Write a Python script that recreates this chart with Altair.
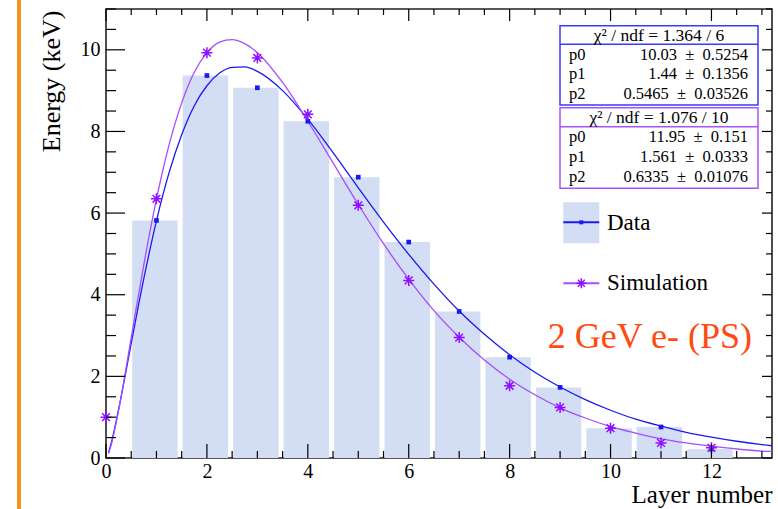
import altair as alt
import pandas as pd

FONT = "Liberation Serif"

# ---- data ----
layers = [1, 2, 3, 4, 5, 6, 7, 8, 9, 10, 11, 12]
data_energy = [5.82, 9.37, 9.07, 8.25, 6.88, 5.29, 3.59, 2.47, 1.73, 0.73, 0.76, 0.22]

sim_layers = [0, 1, 2, 3, 4, 5, 6, 7, 8, 9, 10, 11, 12]
sim_energy = [1.00, 6.35, 9.93, 9.80, 8.42, 6.19, 4.35, 2.95, 1.77, 1.24, 0.73, 0.37, 0.25]

# fitted curves
fit_x = [0.05, 0.1, 0.25, 0.5, 0.75, 1, 1.25, 1.5, 1.75, 2, 2.25, 2.5, 2.75, 3,
         3.5, 4, 4.5, 5, 5.5, 6, 6.5, 7, 7.5, 8, 8.5, 9, 9.5, 10, 10.5, 11,
         11.5, 12, 12.5, 13, 13.2]
data_fit = [0.13, 0.35, 1.19, 2.81, 4.40, 5.81, 6.99, 7.92, 8.63, 9.12, 9.43, 9.57,
            9.58, 9.47, 9.00, 8.30, 7.48, 6.62, 5.78, 4.99, 4.26, 3.60, 3.03, 2.53,
            2.10, 1.74, 1.43, 1.17, 0.95, 0.78, 0.63, 0.51, 0.41, 0.33, 0.30]
sim_fit = [0.11, 0.31, 1.17, 2.95, 4.74, 6.34, 7.67, 8.70, 9.45, 9.93, 10.19, 10.25,
           10.15, 9.93, 9.20, 8.25, 7.23, 6.21, 5.25, 4.38, 3.61, 2.96, 2.40, 1.93,
           1.55, 1.23, 0.98, 0.77, 0.61, 0.47, 0.37, 0.29, 0.22, 0.17, 0.16]

x_labels = [0, 2, 4, 6, 8, 10, 12]
y_labels = [0, 2, 4, 6, 8, 10]
x_minor = [v * 0.5 for v in range(1, 27) if v % 4 != 0]
y_minor = [v * 0.5 for v in range(1, 23) if v % 4 != 0]

PM = "\u2002\u00b1\u2002"
fit1_header = "\u03c7\u00b2 / ndf = 1.364 / 6"
fit1_names = ["p0", "p1", "p2"]
fit1_vals = ["10.03" + PM + "0.5254", "1.44" + PM + "0.1356", "0.5465" + PM + "0.03526"]
fit2_header = "\u03c7\u00b2 / ndf = 1.076 / 10"
fit2_vals = ["11.95" + PM + "0.151", "1.561" + PM + "0.0333", "0.6335" + PM + "0.01076"]

# ---- styles ----
W, H = 666, 449
BAR = "#d3ddf4"
BLUE = "#1a1af0"
PURPLE_LINE = "#a64dff"
PURPLE_PT = "#9010ff"
STAR = "M-1,0L1,0M0,-1L0,1M-0.7,-0.7L0.7,0.7M-0.7,0.7L0.7,-0.7"

bars_df = pd.DataFrame({"layer": layers, "energy": data_energy})
bars_df["x0"] = bars_df["layer"] - 0.48
bars_df["x1"] = bars_df["layer"] + 0.42
sim_df = pd.DataFrame({"layer": sim_layers, "energy": sim_energy})
fit_df = pd.DataFrame({"x": fit_x, "data": data_fit, "sim": sim_fit})

xs = alt.Scale(domain=[0, 13.2], nice=False, zero=False)
ys = alt.Scale(domain=[0, 11], nice=False, zero=False)

x_axis = alt.Axis(values=x_labels, ticks=False, tickSize=0, domain=False, grid=False,
                  labelFont=FONT, labelFontSize=20, labelColor="black", labelPadding=3,
                  title="Layer number", titleFont=FONT, titleFontSize=25,
                  titleFontWeight="normal", titleColor="black", titleX=W,
                  titleY=44, titleAlign="right", titleBaseline="alphabetic",
                  labelFlush=False)
y_axis = alt.Axis(values=y_labels, ticks=False, tickSize=0, domain=False, grid=False,
                  labelFont=FONT, labelFontSize=20, labelColor="black", labelPadding=6,
                  title="Energy (keV)", titleFont=FONT, titleFontSize=26,
                  titleFontWeight="normal", titleColor="black", titleX=-47, titleY=1,
                  titleAlign="right", titleBaseline="alphabetic", titleAngle=270,
                  labelFlush=False)

bars = alt.Chart(bars_df).mark_rect(color=BAR).encode(
    x=alt.X("x0:Q", scale=xs, axis=x_axis),
    x2="x1:Q",
    y=alt.Y("energy:Q", scale=ys, axis=y_axis),
    y2=alt.datum(0),
)

fit_blue = alt.Chart(fit_df).mark_line(color=BLUE, strokeWidth=1.3, interpolate="monotone").encode(
    x=alt.X("x:Q", scale=xs), y=alt.Y("data:Q", scale=ys))
fit_purple = alt.Chart(fit_df).mark_line(color=PURPLE_LINE, strokeWidth=1.3, interpolate="monotone").encode(
    x=alt.X("x:Q", scale=xs), y=alt.Y("sim:Q", scale=ys))

pts_blue = alt.Chart(bars_df).mark_point(shape="square", filled=True, color=BLUE, size=22, opacity=1).encode(
    x=alt.X("layer:Q", scale=xs), y=alt.Y("energy:Q", scale=ys))
pts_sim = alt.Chart(sim_df).mark_point(shape=STAR, filled=False, color=PURPLE_PT, size=121,
                                       strokeWidth=1.5, opacity=1).encode(
    x=alt.X("layer:Q", scale=xs), y=alt.Y("energy:Q", scale=ys))
pts_sim_c = alt.Chart(sim_df).mark_point(shape="circle", filled=True, color=PURPLE_PT, size=10, opacity=1).encode(
    x=alt.X("layer:Q", scale=xs), y=alt.Y("energy:Q", scale=ys))

# ---- ticks (inside the frame, ROOT style) ----
def xticks(vals, y0, y1):
    return alt.Chart(pd.DataFrame({"v": vals})).mark_rule(color="black", strokeWidth=1.2).encode(
        x=alt.X("v:Q", scale=xs), y=alt.value(y0), y2=alt.value(y1))

def yticks(vals, x0, x1):
    return alt.Chart(pd.DataFrame({"v": vals})).mark_rule(color="black", strokeWidth=1.2).encode(
        y=alt.Y("v:Q", scale=ys), x=alt.value(x0), x2=alt.value(x1))

ticks = [
    xticks(x_labels, H, H - 14), xticks(x_minor, H, H - 7),
    xticks(x_labels, 0, 12), xticks(x_minor, 0, 6),
    yticks(y_labels, 0, 19), yticks(y_minor, 0, 10),
    yticks(y_labels, W, W - 10), yticks(y_minor, W, W - 6),
]

one = pd.DataFrame({"k": [0]})

def txt(s, x, y, size, align="left", baseline="middle", color="black"):
    return alt.Chart(one).mark_text(text=s, align=align, baseline=baseline, font=FONT,
                                    fontSize=size, color=color).encode(
        x=alt.value(x), y=alt.value(y))

def box(x0, x1, y0, y1, stroke, fill="white"):
    return alt.Chart(one).mark_rect(fill=fill, stroke=stroke, strokeWidth=1.5).encode(
        x=alt.value(x0), x2=alt.value(x1), y=alt.value(y0), y2=alt.value(y1))

def hline(x0, x1, y, color, width=1.5):
    return alt.Chart(one).mark_rule(color=color, strokeWidth=width).encode(
        x=alt.value(x0), x2=alt.value(x1), y=alt.value(y))

BOX1 = "#3a3aff"
BOX2 = "#a855f7"
SZ = 16.5
annot = [
    box(454, 652, 16.7, 96, BOX1), hline(454, 652, 35.3, BOX1),
    txt(fit1_header, 553, 26.5, 17.5, align="center"),
    box(454, 652, 98.7, 179.3, BOX2), hline(454, 652, 117.7, BOX2),
    txt(fit2_header, 553, 108.5, 17.5, align="center"),
]
for i, (n, v) in enumerate(zip(fit1_names, fit1_vals)):
    annot.append(txt(n, 463, [46, 65.3, 85][i], SZ))
    annot.append(txt(v, 642, [46, 65.3, 85][i], SZ, align="right"))
for i, (n, v) in enumerate(zip(fit1_names, fit2_vals)):
    annot.append(txt(n, 463, [128.3, 147.7, 167.7][i], SZ))
    annot.append(txt(v, 642, [128.3, 147.7, 167.7][i], SZ, align="right"))

# legend
annot += [
    box(457.3, 493.3, 193.3, 234.3, None, fill=BAR),
    hline(457.3, 493.3, 213.3, BLUE, 2),
    alt.Chart(one).mark_point(shape="square", filled=True, color=BLUE, size=16, opacity=1).encode(
        x=alt.value(475.3), y=alt.value(213.3)),
    txt("Data", 501, 213.7, 23),
    hline(457.3, 493.3, 274.3, PURPLE_LINE, 2),
    alt.Chart(one).mark_point(shape=STAR, filled=False, color=PURPLE_PT, size=100,
                              strokeWidth=1.5, opacity=1).encode(
        x=alt.value(475.3), y=alt.value(274.3)),
    txt("Simulation", 501, 274.3, 23),
    txt("2 GeV e- (PS)", 646, 339, 36, align="right", baseline="alphabetic", color="#ff4a12"),
]

# orange slide rule on the far left
orange = alt.Chart(one).mark_rule(color="#f7941d", strokeWidth=4).encode(
    x=alt.value(-87), y=alt.value(-9), y2=alt.value(H + 60))

chart = alt.layer(
    bars, fit_blue, fit_purple, pts_blue, pts_sim, pts_sim_c, *ticks, *annot, orange
).properties(
    width=W, height=H,
    autosize=alt.AutoSizeParams(type="none"),
    padding={"left": 106, "top": 9, "right": 6, "bottom": 51},
    background="white",
).configure_view(stroke="#222222", strokeWidth=1.6)

chart.save("out.html", embed_options={"renderer": "svg", "actions": False})
